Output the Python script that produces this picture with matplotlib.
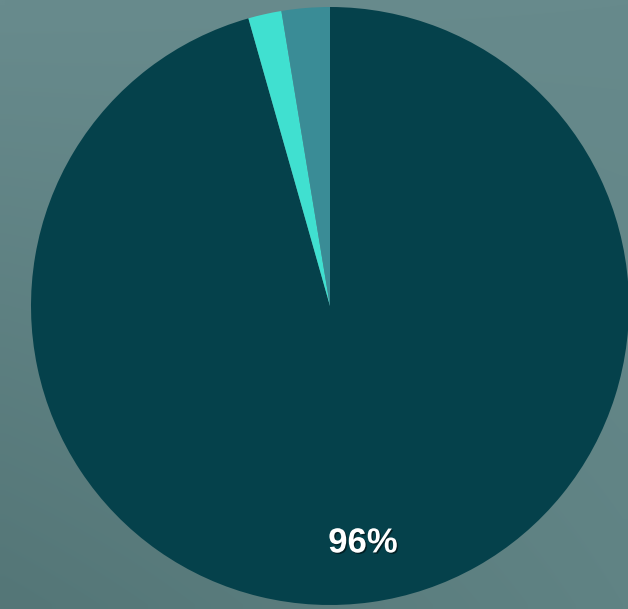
import numpy as np
import matplotlib
matplotlib.use("Agg")
import matplotlib.pyplot as plt
import matplotlib.patheffects as pe

labels = ["Main", "Minor A", "Minor B"]
values = [95.6, 1.8, 2.6]
colors = ["#05414b", "#40e0d0", "#3a8c96"]

W, H = 628, 609
fig = plt.figure(figsize=(W / 100, H / 100), dpi=100)

# background gradient
bg = fig.add_axes([0, 0, 1, 1])
bg.set_axis_off()
tl = np.array([104, 139, 141]) / 255
tr = np.array([103, 138, 140]) / 255
bl = np.array([84, 118, 119]) / 255
br = np.array([96, 131, 132]) / 255
yy, xx = np.mgrid[0:1:64j, 0:1:64j]
img = (tl[None, None] * ((1 - xx) * (1 - yy))[..., None]
       + tr[None, None] * (xx * (1 - yy))[..., None]
       + bl[None, None] * ((1 - xx) * yy)[..., None]
       + br[None, None] * (xx * yy)[..., None])
bg.imshow(img, extent=[0, 1, 0, 1], aspect="auto", interpolation="bilinear")
bg.set_xlim(0, 1)
bg.set_ylim(0, 1)

ax = fig.add_axes([0, 0, 1, 1])
ax.set_axis_off()
ax.patch.set_alpha(0)
cx, cy, r = 330, H - 306, 299

def fmt(p):
    return f"{p:.0f}%" if p > 5 else ""

wedges, texts, autotexts = ax.pie(
    values, colors=colors, startangle=90, counterclock=False,
    center=(cx, cy), radius=r, autopct=fmt, pctdistance=0.8,
    wedgeprops=dict(linewidth=0),
    textprops=dict(color="white", fontsize=25, fontweight="bold",
                   family="Liberation Sans"))
for t in autotexts:
    t.set_path_effects([pe.withSimplePatchShadow(offset=(1, -1), shadow_rgbFace="black", alpha=0.5)])
ax.set_xlim(0, W)
ax.set_ylim(0, H)
ax.set_aspect("equal")

fig.savefig("out.png", dpi=100)
